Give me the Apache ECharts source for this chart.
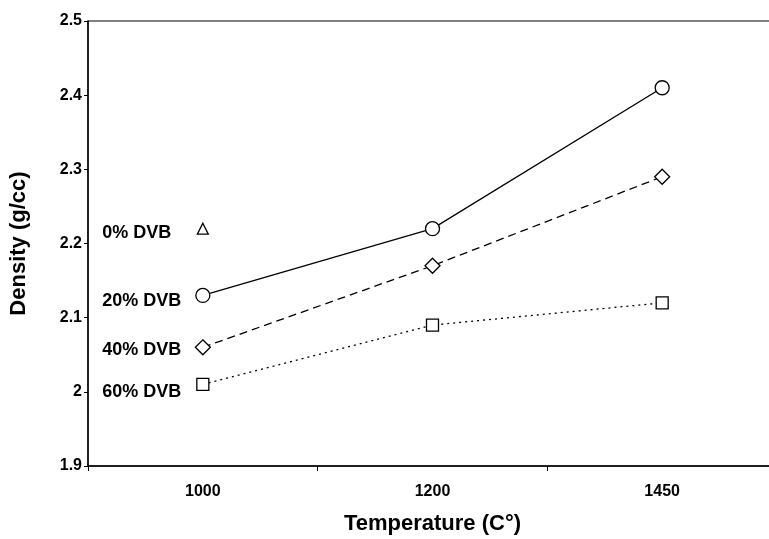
<!DOCTYPE html>
<html>
<head>
<meta charset="utf-8">
<script src="https://cdn.jsdelivr.net/npm/echarts@6/dist/echarts.min.js"></script>
<style>html,body{margin:0;padding:0;background:#fff}#c{width:769px;height:539px}</style>
</head>
<body>
<div id="c"></div>
<script>
var categories = ['1000', '1200', '1450'];
var seriesNames = ['0% DVB', '20% DVB', '40% DVB', '60% DVB'];
var dvb0 = [2.22, null, null];
var dvb20 = [2.13, 2.22, 2.41];
var dvb40 = [2.06, 2.17, 2.29];
var dvb60 = [2.01, 2.09, 2.12];
var yTicks = [1.9, 2.0, 2.1, 2.2, 2.3, 2.4, 2.5];

var FONT = '"Liberation Sans", Arial, sans-serif';

function withLabel(values, name, dist, dy) {
  return values.map(function (v, i) {
    if (i === 0) {
      return {
        value: v,
        label: {
          show: true, position: 'left', align: 'left', distance: dist, offset: [0, dy],
          formatter: name, color: '#000', fontFamily: FONT,
          fontWeight: 'bold', fontSize: 18
        }
      };
    }
    return v;
  });
}

function mk(name, values, symbol, size, lineType, dy) {
  return {
    name: name, type: 'line', data: withLabel(values, name, 100 - size / 2, dy),
    symbol: symbol, symbolSize: size, showAllSymbol: true,
    connectNulls: false,
    lineStyle: { color: '#000', width: 1.3, type: lineType },
    itemStyle: { color: '#fff', borderColor: '#000', borderWidth: 1.3 },
    emphasis: { disabled: true },
    z: 3
  };
}

var chart = echarts.init(document.getElementById('c'), null, { renderer: 'canvas' });
chart.setOption({
  animation: false,
  backgroundColor: '#fff',
  grid: { left: 88, top: 21, bottom: 73, right: -8, outerBoundsMode: 'none', containLabel: false,
          show: true, borderColor: '#000', borderWidth: 1, backgroundColor: 'transparent' },
  xAxis: {
    type: 'category', data: categories, boundaryGap: true,
    name: 'Temperature (C°)', nameLocation: 'middle', nameGap: 47,
    nameTextStyle: { fontFamily: FONT, fontWeight: 'bold', fontSize: 22, color: '#000' },
    axisLine: { lineStyle: { color: '#000', width: 1.5 } },
    axisTick: { show: true, length: 5, alignWithLabel: false, lineStyle: { color: '#000' } },
    axisLabel: { margin: 18, fontFamily: FONT, fontWeight: 'bold', fontSize: 16, color: '#000' },
    splitLine: { show: false }
  },
  yAxis: {
    type: 'value', min: 1.9, max: 2.5, interval: 0.1,
    name: 'Density (g/cc)', nameLocation: 'middle', nameGap: 58,
    nameTextStyle: { fontFamily: FONT, fontWeight: 'bold', fontSize: 22, color: '#000' },
    axisLine: { show: true, lineStyle: { color: '#000', width: 1.5 } },
    axisTick: { show: true, length: 4, lineStyle: { color: '#000' } },
    axisLabel: {
      margin: 6, fontFamily: FONT, fontWeight: 'bold', fontSize: 16, color: '#000',
      formatter: function (v) {
        var r = Math.round(v * 10) / 10;
        var found = yTicks.filter(function (t) { return Math.abs(t - r) < 1e-9; })[0];
        return found === undefined ? '' : String(found);
      }
    },
    splitLine: { show: false }
  },
  series: [
    mk(seriesNames[0], dvb0, 'triangle', 11, 'solid', 4),
    mk(seriesNames[1], dvb20, 'circle', 14, 'solid', 6),
    mk(seriesNames[2], dvb40, 'diamond', 15, [8, 5], 3),
    mk(seriesNames[3], dvb60, 'rect', 12, [2, 4], 8)
  ]
});
</script>
</body>
</html>
